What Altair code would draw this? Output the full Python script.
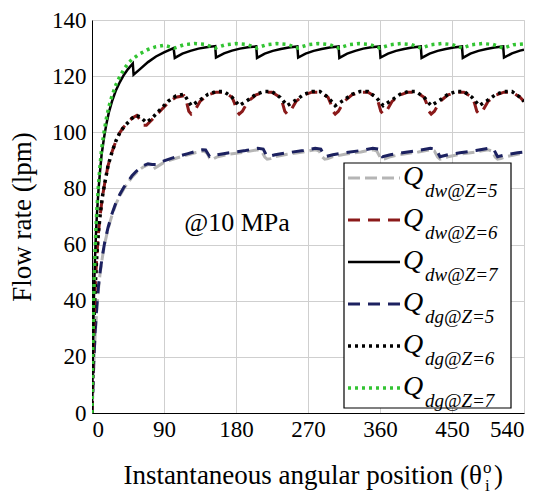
import altair as alt
import pandas as pd

# ---------------- data ----------------
# Q_dw@Z=5 (grey dash)
th_dw5 = [0, 1, 2, 3, 4, 6, 8, 10, 13, 16, 20, 25, 30, 35, 40, 45, 50, 55, 60, 65, 70, 73, 76, 80,
          90, 100, 110, 120, 130, 140, 144, 147, 150, 157, 172, 192, 207, 212, 216, 219, 223,
          229, 244, 264, 279, 284, 288, 291, 295, 301, 316, 336, 351, 356, 360, 363, 367,
          373, 388, 408, 423, 428, 432, 435, 439, 445, 460, 480, 495, 500, 504, 507, 511,
          517, 532, 540]
q_dw5 = [0, 8, 15.5, 22, 28, 37, 44, 49.5, 55.5, 60.5, 65.5, 70.5, 74.5, 77.5, 80, 82, 84, 85.5, 86.8, 87.8, 88.5, 88.5, 86.8, 87.5,
         89.3, 90.3, 91.2, 92, 92.8, 93.3, 92.5, 90.8, 90.3, 91.3, 92.2, 93, 93.8, 93.3, 91.2, 90.4, 90.6,
         91.3, 92.2, 93, 93.8, 93.3, 91.2, 90.4, 90.6, 91.3, 92.2, 93, 93.8, 93.3, 91.2, 90.4, 90.6,
         91.3, 92.2, 93, 93.8, 93.3, 91.2, 90.4, 90.6, 91.3, 92.2, 93, 93.8, 93.3, 91.2, 90.4, 90.6,
         91.3, 92.2, 92.6]

# Q_dg@Z=5 (navy dash)
th_dg5 = [0, 1, 2, 3, 4, 6, 8, 10, 13, 16, 20, 25, 30, 35, 40, 45, 50, 55, 60, 65, 70, 75,
          80, 90, 100, 110, 120, 130, 138, 142, 147,
          157, 172, 192, 207, 214, 219,
          229, 244, 264, 279, 286, 291,
          301, 316, 336, 351, 358, 363,
          373, 388, 408, 423, 430, 435,
          445, 460, 480, 495, 502, 507,
          517, 532, 540]
q_dg5 = [0, 8, 16, 23, 29, 38, 45, 50, 56, 61, 66, 71, 75, 78, 80.5, 82.5, 84.5, 86, 87.2, 88.2, 88.8, 88.5,
         88.5, 89.8, 90.8, 91.6, 92.4, 93.2, 93.8, 93.7, 91.4,
         92, 92.7, 93.5, 94.3, 94, 91.3,
         92, 92.7, 93.5, 94.3, 94, 91.3,
         92, 92.7, 93.5, 94.3, 94, 91.3,
         92, 92.7, 93.5, 94.3, 94, 91.3,
         92, 92.7, 93.5, 94.3, 94, 91.3,
         92, 92.7, 93]

# Q_dw@Z=6 (dark red dash)
th_dw6 = [0, 1, 2, 3, 4, 6, 8, 10, 13, 16, 20, 25, 30, 35, 40, 45, 50, 56, 60, 64, 68,
          75, 85, 95, 105, 115, 118, 121, 124, 128,
          135, 145, 155, 165, 175, 178, 181, 184, 188,
          195, 205, 215, 225, 235, 238, 241, 244, 248,
          255, 265, 275, 285, 295, 298, 301, 304, 308,
          315, 325, 335, 345, 355, 358, 361, 364, 368,
          375, 385, 395, 405, 415, 418, 421, 424, 428,
          435, 445, 455, 465, 475, 478, 481, 484, 488,
          495, 505, 515, 525, 535, 540]
q_dw6 = [0, 14, 27, 37, 45, 56, 64, 70, 77, 82, 88, 93, 97, 100, 102, 103.5, 105, 106, 104.5, 102.5, 102.5,
         104.5, 107.5, 110.5, 112.5, 113, 111, 107.5, 106.5, 107.5,
         111, 113.3, 114.3, 114.3, 112.5, 110.5, 107.5, 106.5, 107.5,
         111, 113.3, 114.3, 114.3, 112.5, 110.5, 107.5, 106.5, 107.5,
         111, 113.3, 114.3, 114.3, 112.5, 110.5, 107.5, 106.5, 107.5,
         111, 113.3, 114.3, 114.3, 112.5, 110.5, 107.5, 106.5, 107.5,
         111, 113.3, 114.3, 114.3, 112.5, 110.5, 107.5, 106.5, 107.5,
         111, 113.3, 114.3, 114.3, 112.5, 110.5, 107.5, 106.5, 107.5,
         111, 113.3, 114.3, 114.3, 112.5, 111]

# Q_dg@Z=6 (black dots)
th_dg6 = [0, 1, 2, 3, 4, 6, 8, 10, 13, 16, 20, 25, 30, 35, 40, 45, 50, 55, 60, 68,
          75, 85, 95, 105, 115, 124,
          135, 145, 155, 165, 175, 184,
          195, 205, 215, 225, 235, 244,
          255, 265, 275, 285, 295, 304,
          315, 325, 335, 345, 355, 364,
          375, 385, 395, 405, 415, 424,
          435, 445, 455, 465, 475, 484,
          495, 505, 515, 525, 535, 540]
q_dg6 = [0, 14, 27, 37, 45, 56, 64, 70, 77, 82, 88, 93, 97, 100, 102, 103.5, 105, 106, 105.5, 103.5,
         105, 108, 111, 113, 113.5, 109.5,
         111.5, 113.5, 114.5, 114.5, 112.5, 109.5,
         111.5, 113.5, 114.5, 114.5, 112.5, 109.5,
         111.5, 113.5, 114.5, 114.5, 112.5, 109.5,
         111.5, 113.5, 114.5, 114.5, 112.5, 109.5,
         111.5, 113.5, 114.5, 114.5, 112.5, 109.5,
         111.5, 113.5, 114.5, 114.5, 112.5, 109.5,
         111.5, 113.5, 114.5, 114.5, 112.5, 111]

# Q_dw@Z=7 (black solid)
th_dw7 = [0, 1, 2, 3, 4, 5, 6, 8, 10, 12, 15, 18, 21, 25, 30, 35, 40, 45, 51, 52,
          60, 70, 80, 90, 102,
          103.5, 113, 123, 133, 143, 154,
          155, 165, 175, 185, 195, 205.3,
          206.3, 216, 226, 236, 246, 256.7,
          257.7, 267, 277, 287, 297, 308.2,
          309.2, 319, 329, 339, 349, 359.6,
          360.6, 370, 380, 390, 400, 411,
          412, 422, 432, 442, 452, 462.5,
          463.5, 473, 483, 493, 503, 514,
          515, 525, 535, 540]
q_dw7 = [0, 20, 36, 48, 57, 64, 70, 79, 86, 92, 98, 103, 107, 111, 115, 118, 120.5, 122.5, 124.5, 120.5,
         122.5, 125, 127, 128.5, 130,
         126.5, 128, 129, 129.8, 130.3, 130.7,
         126.6, 128.1, 129.1, 129.8, 130.3, 130.6,
         126.5, 128, 129, 129.7, 130.2, 130.6,
         126.6, 128, 129, 129.7, 130.2, 130.6,
         126.5, 128, 129, 129.8, 130.3, 130.6,
         126.6, 128, 129, 129.7, 130.2, 130.6,
         126.5, 128, 129, 129.7, 130.2, 130.6,
         126.5, 128, 129, 129.7, 130.2, 130.6,
         126.6, 128.1, 129.1, 129.4]

# Q_dg@Z=7 (green dots)
th_dg7 = [0, 1, 2, 3, 4, 5, 6, 8, 10, 12, 15, 18, 21, 25, 30, 35, 40, 45, 50, 55, 60, 70, 80, 90,
          102.9, 115, 128, 141, 154.3, 167, 180, 193, 205.7, 218, 231, 244, 257.1, 270, 283, 296,
          308.6, 321, 334, 347, 360, 373, 386, 399, 411.4, 424, 437, 450, 462.9, 475, 488, 501,
          514.3, 527, 540]
q_dg7 = [0, 22, 38, 50, 59, 66, 72, 81, 88, 94, 100, 105, 109, 113, 117, 120, 122.5, 124.5, 126, 127, 128, 129.5, 130.5, 131,
         130, 131.2, 131.6, 131.3, 130, 131.2, 131.6, 131.3, 130, 131.2, 131.6, 131.3, 130, 131.2, 131.6, 131.3,
         130, 131.2, 131.6, 131.3, 130, 131.2, 131.6, 131.3, 130, 131.2, 131.6, 131.3, 130, 131.2, 131.6, 131.3,
         130, 131.2, 131.5]

legend_sub = ["dw@Z=5", "dw@Z=6", "dw@Z=7", "dg@Z=5", "dg@Z=6", "dg@Z=7"]
x_ticks = [0, 90, 180, 270, 360, 450, 540]
y_ticks = [0, 20, 40, 60, 80, 100, 120, 140]

# ---------------- styling ----------------
FONT = "Liberation Serif"
W, H = 432, 393

styles = [  # (theta, q, color, dash, width)
    (th_dw5, q_dw5, "#b5b5b5", [12, 5], 3),
    (th_dg5, q_dg5, "#1c2160", [12, 8], 3),
    (th_dw6, q_dw6, "#8b1a1a", [12, 8], 3),
    (th_dg6, q_dg6, "#000000", [3, 4], 3.5),
    (th_dw7, q_dw7, "#000000", None, 2.5),
    (th_dg7, q_dg7, "#33c433", [3, 4], 3.5),
]
legend_order = [0, 2, 4, 1, 3, 5]  # legend rows: dw5, dw6, dw7, dg5, dg6, dg7

x_enc = alt.X("theta:Q", scale=alt.Scale(domain=[0, 540], nice=False, zero=False),
              axis=alt.Axis(values=x_ticks, title=None, grid=True, ticks=False,
                            labelFont=FONT, labelFontSize=23, labelColor="black",
                            labelPadding=5, domainColor="black",
                            gridColor="#cfcfcf", gridWidth=1))
y_enc = alt.Y("q:Q", scale=alt.Scale(domain=[0, 140], nice=False),
              axis=alt.Axis(values=y_ticks, title="Flow rate (lpm)", grid=True, ticks=False,
                            labelFont=FONT, labelFontSize=23, labelColor="black",
                            labelPadding=6, domainColor="black",
                            gridColor="#cfcfcf", gridWidth=1,
                            titleFont=FONT, titleFontSize=27, titleFontWeight="normal",
                            titleColor="black", titleX=-70, titleY=H / 2,
                            titleAngle=270, titleBaseline="middle", titleAlign="center"))

layers = []
for th, q, col, dash, sw in styles:
    df = pd.DataFrame({"theta": th, "q": q})
    kw = dict(color=col, strokeWidth=sw, clip=True)
    if dash:
        kw["strokeDash"] = dash
    layers.append(alt.Chart(df).mark_line(**kw).encode(x=x_enc, y=y_enc))

one = pd.DataFrame({"a": [0]})

# legend box
layers.append(alt.Chart(one).mark_rect(fill="white", stroke="black", strokeWidth=1.2).encode(
    x=alt.value(252), x2=alt.value(419), y=alt.value(143), y2=alt.value(388)))

for row, si in enumerate(legend_order):
    _, _, col, dash, sw = styles[si]
    ly = 158 + 42 * row
    kw = dict(color=col, strokeWidth=sw)
    if dash:
        kw["strokeDash"] = dash
    layers.append(alt.Chart(one).mark_rule(**kw).encode(
        x=alt.value(256), x2=alt.value(308), y=alt.value(ly)))
    ldf = pd.DataFrame({"main": ["Q"], "sub": [legend_sub[row]]})
    layers.append(alt.Chart(ldf).mark_text(font=FONT, fontSize=28, fontStyle="italic",
                                           align="left", baseline="alphabetic", color="black").encode(
        x=alt.value(311), y=alt.value(ly + 7), text="main:N"))
    layers.append(alt.Chart(ldf).mark_text(font=FONT, fontSize=19, fontStyle="italic",
                                           align="left", baseline="alphabetic", color="black").encode(
        x=alt.value(333), y=alt.value(ly + 19), text="sub:N"))

# annotation
ann = pd.DataFrame({"t": ["@10 MPa"]})
layers.append(alt.Chart(ann).mark_text(font=FONT, fontSize=26, align="center",
                                       baseline="middle", color="black").encode(
    x=alt.value(145), y=alt.value(203), text="t:N"))

# x-axis title with super/subscript
xt = pd.DataFrame({"main": ["Instantaneous angular position (\u03b8"], "sup": ["o"],
                   "sub": ["i"], "close": [")"]})
XT_END, XT_Y = 390, 464
layers.append(alt.Chart(xt).mark_text(font=FONT, fontSize=27, align="right",
                                      baseline="alphabetic", color="black").encode(
    x=alt.value(XT_END), y=alt.value(XT_Y), text="main:N"))
layers.append(alt.Chart(xt).mark_text(font=FONT, fontSize=17, align="left",
                                      baseline="alphabetic", color="black").encode(
    x=alt.value(XT_END + 1), y=alt.value(XT_Y - 11), text="sup:N"))
layers.append(alt.Chart(xt).mark_text(font=FONT, fontSize=17, align="left",
                                      baseline="alphabetic", color="black").encode(
    x=alt.value(XT_END + 3), y=alt.value(XT_Y + 7), text="sub:N"))
layers.append(alt.Chart(xt).mark_text(font=FONT, fontSize=27, align="left",
                                      baseline="alphabetic", color="black").encode(
    x=alt.value(XT_END + 12), y=alt.value(XT_Y), text="close:N"))

chart = alt.layer(*layers).properties(
    width=W, height=H,
    autosize=alt.AutoSizeParams(type="none"),
    padding={"left": 84, "top": 12, "right": 20, "bottom": 90},
).configure_view(stroke="black", strokeWidth=1.5).configure(background="white", font=FONT)

chart.save("out.html", embed_options={"renderer": "svg", "actions": False})
